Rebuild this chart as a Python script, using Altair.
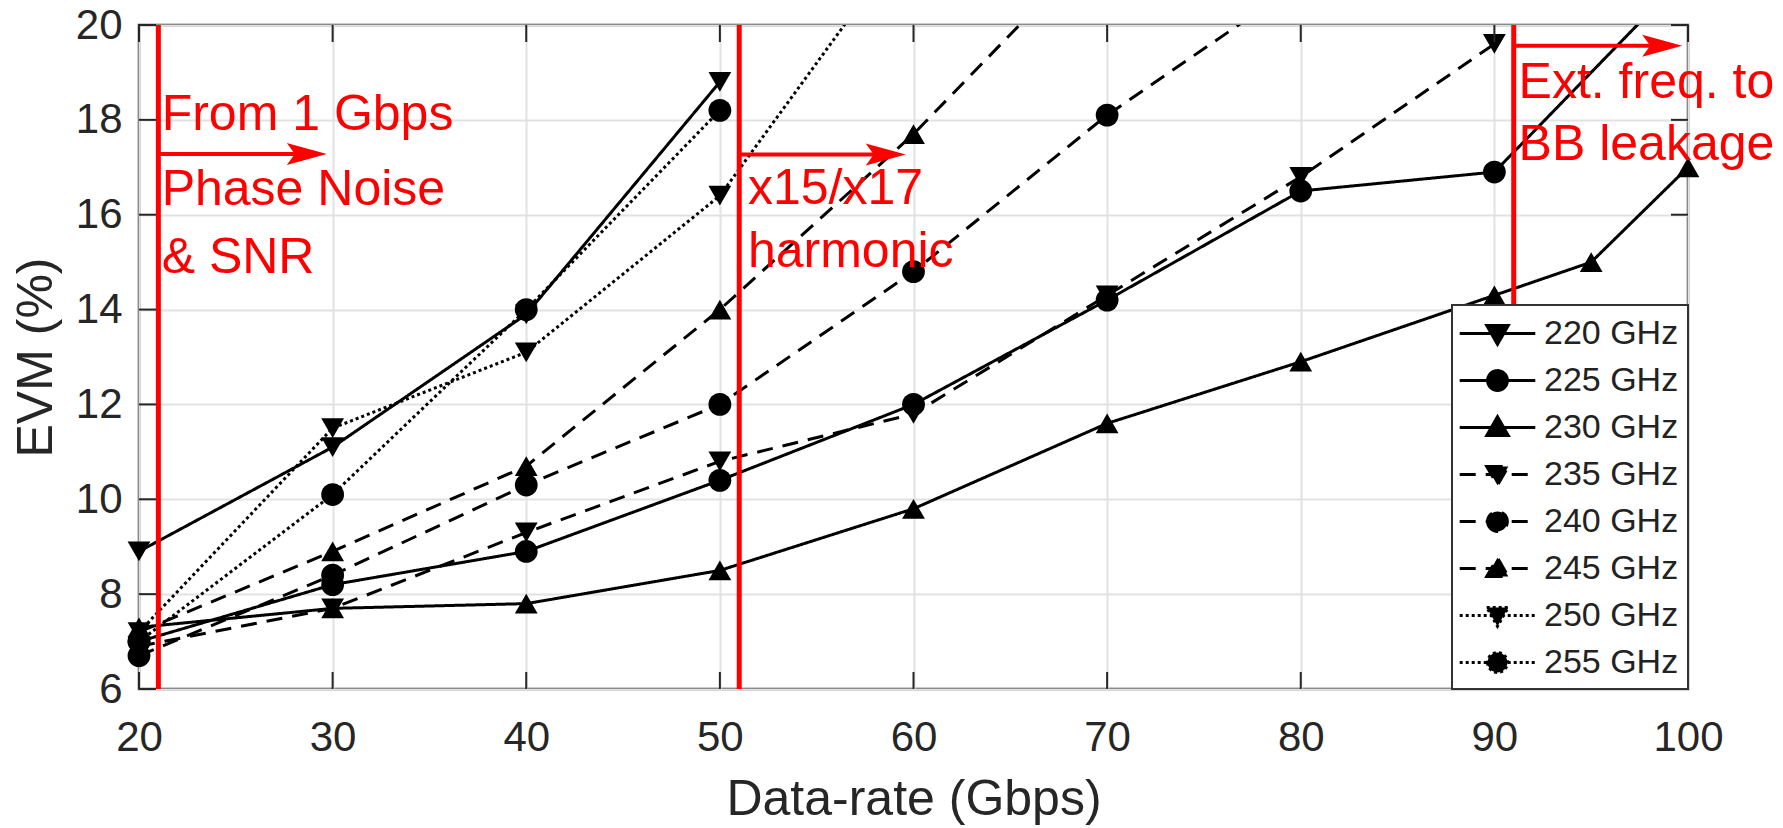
import altair as alt
import pandas as pd

# ---------------- data ----------------
series = ["220 GHz", "225 GHz", "230 GHz", "235 GHz",
          "240 GHz", "245 GHz", "250 GHz", "255 GHz"]

rate_220 = [20, 30, 40, 50]
evm_220 = [8.9, 11.1, 13.9, 18.8]
rate_225 = [20, 30, 40, 50, 60, 70, 80, 90, 100]
evm_225 = [7.0, 8.2, 8.9, 10.4, 12.0, 14.2, 16.5, 16.9, 21.1]
rate_230 = [20, 30, 40, 50, 60, 70, 80, 90, 95, 100]
evm_230 = [7.3, 7.7, 7.8, 8.5, 9.8, 11.6, 12.9, 14.3, 15.0, 17.0]
rate_235 = [20, 30, 40, 50, 60, 70, 80, 90]
evm_235 = [6.9, 7.7, 9.3, 10.8, 11.8, 14.3, 16.8, 19.6]
rate_240 = [20, 30, 40, 50, 60, 70, 80]
evm_240 = [6.7, 8.4, 10.3, 12.0, 14.8, 18.1, 20.9]
rate_245 = [20, 30, 40, 50, 60, 70]
evm_245 = [7.2, 8.9, 10.7, 14.0, 17.7, 21.9]
rate_250 = [20, 30, 40, 50, 60]
evm_250 = [7.2, 11.5, 13.1, 16.4, 22.0]
rate_255 = [20, 30, 40, 50]
evm_255 = [7.0, 10.1, 14.0, 18.2]

x_ticks = [20, 30, 40, 50, 60, 70, 80, 90, 100]
y_ticks = [6, 8, 10, 12, 14, 16, 18, 20]

boundary_rates = [21, 51, 91]
arrow_start = [21, 51, 91]
arrow_end = [29.7, 59.6, 99.7]
arrow_evm = [17.28, 17.27, 19.56]

note_text = ["From 1 Gbps", "Phase Noise", "& SNR",
             "x15/x17", "harmonic",
             "Ext. freq. to", "BB leakage"]
note_rate = [21.17, 21.17, 21.17, 51.45, 51.45, 91.25, 91.25]
note_evm = [17.79, 16.2, 14.77, 16.23, 14.9, 18.46, 17.15]

# ---------------- tables ----------------
rates = [rate_220, rate_225, rate_230, rate_235, rate_240, rate_245, rate_250, rate_255]
evms = [evm_220, evm_225, evm_230, evm_235, evm_240, evm_245, evm_250, evm_255]
rows = []
for s, xs, ys in zip(series, rates, evms):
    for xv, yv in zip(xs, ys):
        rows.append({"series": s, "rate": xv, "evm": yv})
df = pd.DataFrame(rows)

bounds_df = pd.DataFrame({"rate": boundary_rates})
arrows_df = pd.DataFrame({"start": arrow_start, "end": arrow_end, "evm": arrow_evm})
notes_df = pd.DataFrame({"text": note_text, "rate": note_rate, "evm": note_evm})
xt_df = pd.DataFrame({"rate": x_ticks})
yt_df = pd.DataFrame({"evm": y_ticks})

# ---------------- styles ----------------
W, H = 1549, 664
FONT = "Liberation Sans"
RED = "#ff0000"
DARK = "#262626"
TICK = 17

SOLID = [1, 0]
DASH = [16, 10]
DOT = [3, 3]
dash_range = [SOLID, SOLID, SOLID, DASH, DASH, DASH, DOT, DOT]
shape_range = ["triangle-down", "circle", "triangle-up",
               "triangle-down", "circle", "triangle-up",
               "triangle-down", "circle"]
marker_domain = ["m " + s for s in series]

LINE = "M-2.1,0L2.1,0"
paths = {
    "triangle-down": LINE + "M-0.6,-0.45L0.6,-0.45L0,0.6Z",
    "circle": LINE + "M-0.55,0A0.55,0.55,0,1,0,0.55,0A0.55,0.55,0,1,0,-0.55,0Z",
    "triangle-up": LINE + "M-0.6,0.45L0.6,0.45L0,-0.6Z",
}
expr = "'" + paths[shape_range[-1]] + "'"
for s, sh in reversed(list(zip(series[:-1], shape_range[:-1]))):
    expr = "datum.value === '" + s + "' ? '" + paths[sh] + "' : (" + expr + ")"

ARROW = "M-1,-0.55L1,0L-1,0.55L-0.6,0Z"

x_scale = alt.Scale(domain=[20, 100], nice=False, zero=False)
y_scale = alt.Scale(domain=[6, 20], nice=False, zero=False)

x_axis = alt.Axis(values=x_ticks, title="Data-rate (Gbps)", titleFontSize=50,
                  titleFont=FONT, titleFontWeight="normal", titleColor=DARK,
                  titleBaseline="alphabetic", titleY=125,
                  labelFontSize=42, labelFont=FONT, labelColor=DARK,
                  labelPadding=28, labelFlush=False, labelOverlap=False,
                  ticks=False, tickSize=0, domain=False,
                  grid=True, gridColor="#e2e2e2", gridWidth=2)
y_axis = alt.Axis(values=y_ticks, title="EVM (%)", titleFontSize=50,
                  titleFont=FONT, titleFontWeight="normal", titleColor=DARK,
                  titleBaseline="alphabetic", titleX=-88, titleY=H / 2,
                  titleAngle=-90, titleAlign="center",
                  labelFontSize=42, labelFont=FONT, labelColor=DARK,
                  labelPadding=17, labelFlush=False, labelOverlap=False,
                  ticks=False, tickSize=0, domain=False,
                  grid=True, gridColor="#e2e2e2", gridWidth=2)

legend = alt.Legend(
    title=None, orient="bottom-right", offset=0, padding=9,
    fillColor="white", strokeColor="#333333",
    symbolSize=1296, symbolOffset=17, labelOffset=27, rowPadding=10,
    labelFontSize=34, labelFont=FONT, labelColor="#222222",
    symbolStrokeWidth=3, symbolStrokeColor="black", symbolFillColor="black",
    symbolType={"expr": expr},
)

lines = alt.Chart(df).mark_line(clip=True, color="black", strokeWidth=3).encode(
    x=alt.X("rate:Q", scale=x_scale, axis=x_axis),
    y=alt.Y("evm:Q", scale=y_scale, axis=y_axis),
    strokeDash=alt.StrokeDash("series:N",
                              scale=alt.Scale(domain=series, range=dash_range),
                              legend=legend),
)

points = alt.Chart(df).transform_filter(alt.datum.evm <= 20).transform_calculate(
    marker="'m ' + datum.series"
).mark_point(
    filled=True, size=520, color="black", opacity=1
).encode(
    x="rate:Q", y="evm:Q",
    shape=alt.Shape("marker:N",
                    scale=alt.Scale(domain=marker_domain, range=shape_range),
                    legend=None),
)

vlines = alt.Chart(bounds_df).mark_rule(color=RED, strokeWidth=5).encode(
    x="rate:Q")

shafts = alt.Chart(arrows_df).mark_rule(color=RED, strokeWidth=4, x2Offset=-20).encode(
    x=alt.X("start:Q"), x2="end:Q", y="evm:Q")
heads = alt.Chart(arrows_df).mark_point(
    shape=ARROW, size=1600, filled=True, color=RED, opacity=1, xOffset=-20
).encode(x="end:Q", y="evm:Q")

notes = alt.Chart(notes_df).mark_text(
    align="left", baseline="alphabetic", font=FONT, fontSize=50, color=RED
).encode(x="rate:Q", y="evm:Q", text="text:N")

xt_bottom = alt.Chart(xt_df).mark_rule(color=DARK, strokeWidth=2).encode(
    x="rate:Q", y=alt.value(H), y2=alt.value(H - TICK))
xt_top = alt.Chart(xt_df).mark_rule(color=DARK, strokeWidth=2).encode(
    x="rate:Q", y=alt.value(0), y2=alt.value(TICK))
yt_left = alt.Chart(yt_df).mark_rule(color=DARK, strokeWidth=2).encode(
    y="evm:Q", x=alt.value(0), x2=alt.value(TICK))
yt_right = alt.Chart(yt_df).mark_rule(color=DARK, strokeWidth=2).encode(
    y="evm:Q", x=alt.value(W - TICK), x2=alt.value(W))

chart = alt.layer(
    lines, points, xt_bottom, xt_top, yt_left, yt_right,
    vlines, shafts, heads, notes
).properties(
    width=W, height=H,
    padding={"left": 139, "top": 25, "right": 1783 - 139 - W, "bottom": 828 - 25 - H},
    autosize=alt.AutoSizeParams(type="none"),
    background="white",
).configure(font=FONT).configure_view(
    stroke="#333333", strokeWidth=2.5
).configure_legend(strokeWidth=2)

chart.save("out.html", embed_options={"renderer": "svg", "actions": False})
